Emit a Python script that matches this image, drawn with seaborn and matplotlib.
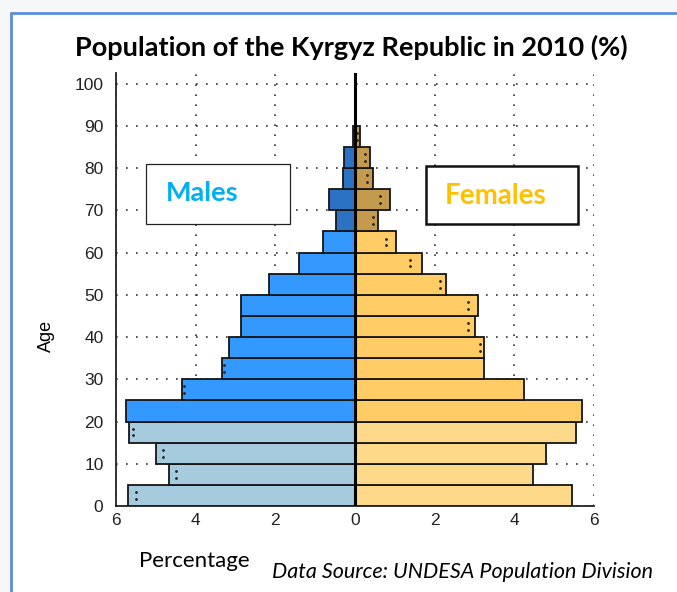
import matplotlib
matplotlib.use("Agg")
import matplotlib.pyplot as plt
from matplotlib.patches import Rectangle
from matplotlib.lines import Line2D
import seaborn as sns
import pandas as pd
import numpy as np

# ---------------- data ----------------
age_start = [0, 5, 10, 15, 20, 25, 30, 35, 40, 45, 50, 55, 60, 65, 70, 75, 80, 85]
males = [5.71, 4.67, 5.00, 5.67, 5.75, 4.35, 3.33, 3.16, 2.86, 2.86,
         2.15, 1.41, 0.81, 0.48, 0.66, 0.31, 0.28, 0.06]
females = [5.46, 4.46, 4.79, 5.54, 5.71, 4.24, 3.25, 3.25, 3.00, 3.08,
           2.29, 1.67, 1.04, 0.58, 0.88, 0.46, 0.38, 0.13]
age_group = ["young"] * 4 + ["adult"] * 9 + ["old"] * 5

# small comparison markers (":" dots inside bars)
male_mark_ages = [0, 5, 10, 15, 25, 30]
male_mark_vals = [5.50, 4.50, 4.83, 5.58, 4.30, 3.30]
female_mark_ages = [35, 40, 45, 50, 55, 60, 65, 70, 75, 80, 85]
female_mark_vals = [3.13, 2.83, 2.83, 2.13, 1.38, 0.79, 0.46, 0.63, 0.30, 0.25, 0.04]

x_ticks = [-6, -4, -2, 0, 2, 4, 6]
x_tick_labels = ["6", "4", "2", "0", "2", "4", "6"]
y_ticks = [0, 10, 20, 30, 40, 50, 60, 70, 80, 90, 100]

male_palette = {"young": "#A6CBDE", "adult": "#3399FF", "old": "#2B73C2"}
female_palette = {"young": "#FFD98A", "adult": "#FFCC66", "old": "#C49A4E"}

# ---------------- figure ----------------
sns.set_theme(style="white")
plt.rcParams["font.family"] = ["Liberation Sans", "DejaVu Sans"]
plt.rcParams["text.color"] = "black"

W, H = 677, 592
fig = plt.figure(figsize=(W / 100, H / 100), dpi=100)
fig.patch.set_facecolor("#F6F7F9")

def fx(px):
    return px / W

def fy(py):
    return 1 - py / H

# white panel with blue frame on left/top
fig.patches.append(Rectangle((fx(11), 0), 1 - fx(11), fy(13), transform=fig.transFigure,
                             facecolor="white", edgecolor="none", zorder=-2))
fig.lines.append(Line2D([fx(11), fx(11)], [0, fy(13)], transform=fig.transFigure,
                        color="#5B8ED8", lw=2.0))
fig.lines.append(Line2D([fx(11), 1], [fy(13), fy(13)], transform=fig.transFigure,
                        color="#5B8ED8", lw=2.0))

ax = fig.add_axes([fx(116), fy(506), fx(594) - fx(116), fy(73) - fy(506)])
ax.set_facecolor("white")

centers = np.array(age_start) + 2.5
df_m = pd.DataFrame({"age": centers, "pct": -np.array(males), "grp": age_group})
df_f = pd.DataFrame({"age": centers, "pct": np.array(females), "grp": age_group})

sns.barplot(data=df_m, x="pct", y="age", hue="grp", palette=male_palette, orient="y",
            native_scale=True, width=1, dodge=False, errorbar=None, legend=False,
            saturation=1, edgecolor="#151515", linewidth=1.3, ax=ax, zorder=2)
sns.barplot(data=df_f, x="pct", y="age", hue="grp", palette=female_palette, orient="y",
            native_scale=True, width=1, dodge=False, errorbar=None, legend=False,
            saturation=1, edgecolor="#151515", linewidth=1.3, ax=ax, zorder=2)

# marker dots
mx = np.concatenate([-np.array(male_mark_vals), -np.array(male_mark_vals),
                     np.array(female_mark_vals), np.array(female_mark_vals)])
my = np.concatenate([np.array(male_mark_ages) + 1.7, np.array(male_mark_ages) + 3.3,
                     np.array(female_mark_ages) + 1.7, np.array(female_mark_ages) + 3.3])
sns.scatterplot(x=mx, y=my, ax=ax, s=4, color="#222222", linewidth=0, marker="o", zorder=3)

ax.axvline(0, color="black", lw=2.2, zorder=4)

ax.set_xlim(-6, 6)
ax.set_ylim(0, 102.5)
ax.set_xticks(x_ticks)
ax.set_xticklabels(x_tick_labels)
ax.set_yticks(y_ticks)
ax.set_xlabel("")
ax.set_ylabel("")
ax.grid(True, linestyle=(0, (1, 5)), color="#333333", linewidth=1.2, zorder=0)
ax.set_axisbelow(True)
for s in ["top", "right"]:
    ax.spines[s].set_visible(False)
for s in ["left", "bottom"]:
    ax.spines[s].set_color("#222222")
    ax.spines[s].set_linewidth(1.3)
ax.tick_params(direction="in", length=3, width=1, color="#222222", labelsize=12.5,
               labelcolor="#222222", pad=5)
ax.tick_params(axis="y", pad=9)

# title and labels
fig.text(fx(351), fy(47), "Population of the Kyrgyz Republic in 2010 (%)", ha="center",
         va="center", fontsize=19.5, fontweight="bold", color="black",
         family=["Lato", "DejaVu Sans"])
fig.text(fx(46), fy(336), "Age", rotation=90, ha="center", va="center", fontsize=13,
         color="black", family=["Liberation Sans", "DejaVu Sans"])
fig.text(fx(194), fy(561), "Percentage", ha="center", va="center", fontsize=16,
         color="black", family=["Lato", "DejaVu Sans"])
fig.text(fx(463), fy(572), "Data Source: UNDESA Population Division", ha="center",
         va="center", fontsize=15.5, fontstyle="italic", color="black",
         family=["Lato", "DejaVu Sans"])

# legend boxes
fig.patches.append(Rectangle((fx(146), fy(224)), fx(290) - fx(146), fy(164) - fy(224),
                             transform=fig.transFigure, facecolor="white",
                             edgecolor="#222222", lw=0.9, zorder=5))
fig.text(fx(202), fy(193), "Males", ha="center", va="center", fontsize=19.5,
         fontweight="bold", color="#00B0F0", family=["Lato", "DejaVu Sans"], zorder=6)
fig.patches.append(Rectangle((fx(426), fy(224)), fx(578) - fx(426), fy(166) - fy(224),
                             transform=fig.transFigure, facecolor="white",
                             edgecolor="#111111", lw=1.8, zorder=5))
fig.text(fx(496), fy(196), "Females", ha="center", va="center", fontsize=20,
         fontweight="bold", color="#FFC000", family=["Lato", "DejaVu Sans"], zorder=6)

fig.savefig("out.png", dpi=100)
